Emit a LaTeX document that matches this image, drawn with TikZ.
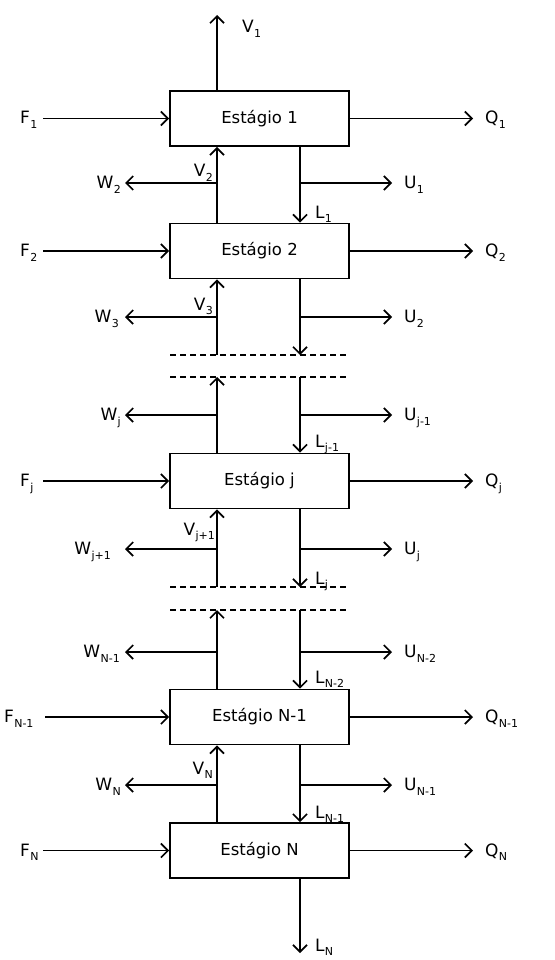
\documentclass[tikz,border=0pt]{standalone}
\usepackage{fontspec}
\setmainfont{DejaVu Sans}
\usetikzlibrary{arrows.meta}
\newcommand\lbx[2]{#1\kern0.3pt\raisebox{-0.5ex}{\fontsize{11}{11}\selectfont #2}}
\tikzset{
 stage/.style={draw, line width=1.7pt, minimum width=179pt, minimum height=55pt, inner sep=0pt, font=\fontsize{16.5}{16.5}\selectfont},
 flow/.style={line width=1.7pt, -{Straight Barb[length=7pt,width=14pt,line width=1.7pt]}},
 lab/.style={inner sep=0pt, font=\fontsize{17}{17}\selectfont},
 cut/.style={line width=1.7pt, dash pattern=on 6pt off 4pt}
}
\begin{document}
\begin{tikzpicture}[x=1pt,y=-1pt]
\useasboundingbox (0,0) rectangle (554,960);
% stages
\node[stage] (s1) at (259.5,118.5) {Estágio 1};
\node[stage] (s2) at (259.5,251) {Estágio 2};
\node[stage] (sj) at (259.5,481) {Estágio j};
\node[stage] (sn1) at (259.5,717) {Estágio N-1};
\node[stage] (sn) at (259.5,850.5) {Estágio N};
% column coordinates
\coordinate (vx) at (217,0);
\coordinate (lx) at (300,0);
% dashed cuts
\coordinate (c1a) at (170,355); \coordinate (c1b) at (349,355);
\coordinate (c2a) at (170,377); \coordinate (c2b) at (349,377);
\coordinate (c3a) at (170,587); \coordinate (c3b) at (349,587);
\coordinate (c4a) at (170,610); \coordinate (c4b) at (349,610);
\draw[cut] (c1a) -- (c1b);
\draw[cut] (c2a) -- (c2b);
\draw[cut] (c3a) -- (c3b);
\draw[cut] (c4a) -- (c4b);
% feeds and products
\foreach \s/\y/\fx in {s1/118.5/43, s2/251/43, sj/481/43, sn1/717/45, sn/850.5/43}{
  \coordinate (f-\s) at (\fx,\y);
  \coordinate (q-\s) at (473,\y);
  \draw[flow] (f-\s) -- (f-\s -| \s.west);
  \draw[flow] (\s.east |- q-\s) -- (q-\s);
}
% top vapour
\coordinate (v1) at (217,15);
\draw[flow] (s1.north -| vx) -- (v1);
% stage 1 - stage 2
\draw[flow] (s2.north -| vx) -- (s1.south -| vx);
\draw[flow] (s1.south -| lx) -- (s2.north -| lx);
\coordinate (w2) at (125,183); \coordinate (u1) at (392,183);
\draw[flow] (w2 -| vx) -- (w2);
\draw[flow] (u1 -| lx) -- (u1);
% stage 2 - cut
\draw[flow] (c1a -| vx) -- (s2.south -| vx);
\draw[flow] (s2.south -| lx) -- (c1a -| lx);
\coordinate (w3) at (125,317); \coordinate (u2) at (392,317);
\draw[flow] (w3 -| vx) -- (w3);
\draw[flow] (u2 -| lx) -- (u2);
% cut - stage j
\draw[flow] (sj.north -| vx) -- (c2a -| vx);
\draw[flow] (c2a -| lx) -- (sj.north -| lx);
\coordinate (wj) at (125,415); \coordinate (uj1) at (392,415);
\draw[flow] (wj -| vx) -- (wj);
\draw[flow] (uj1 -| lx) -- (uj1);
% stage j - cut
\draw[flow] (c3a -| vx) -- (sj.south -| vx);
\draw[flow] (sj.south -| lx) -- (c3a -| lx);
\coordinate (wjp) at (125,549); \coordinate (uj) at (392,549);
\draw[flow] (wjp -| vx) -- (wjp);
\draw[flow] (uj -| lx) -- (uj);
% cut - stage N-1
\draw[flow] (sn1.north -| vx) -- (c4a -| vx);
\draw[flow] (c4a -| lx) -- (sn1.north -| lx);
\coordinate (wn1) at (125,652); \coordinate (un2) at (392,652);
\draw[flow] (wn1 -| vx) -- (wn1);
\draw[flow] (un2 -| lx) -- (un2);
% stage N-1 - stage N
\draw[flow] (sn.north -| vx) -- (sn1.south -| vx);
\draw[flow] (sn1.south -| lx) -- (sn.north -| lx);
\coordinate (wn) at (125,785); \coordinate (un1) at (392,785);
\draw[flow] (wn -| vx) -- (wn);
\draw[flow] (un1 -| lx) -- (un1);
% bottom liquid
\coordinate (ln) at (300,953);
\draw[flow] (sn.south -| lx) -- (ln);
% labels: feeds
\node[lab, anchor=base west] (tF1) at (20,124) {\lbx{F}{1}};
\node[lab, anchor=base west] (tF2) at (20,256.5) {\lbx{F}{2}};
\node[lab, anchor=base west] (tFj) at (20,486.5) {\lbx{F}{j}};
\node[lab, anchor=base west] (tFn1) at (4,722.5) {\lbx{F}{N-1}};
\node[lab, anchor=base west] (tFn) at (20,856) {\lbx{F}{N}};
% labels: products
\node[lab, anchor=base west] (tQ1) at (485,124) {\lbx{Q}{1}};
\node[lab, anchor=base west] (tQ2) at (485,256.5) {\lbx{Q}{2}};
\node[lab, anchor=base west] (tQj) at (485,486.5) {\lbx{Q}{j}};
\node[lab, anchor=base west] (tQn1) at (485,722.5) {\lbx{Q}{N-1}};
\node[lab, anchor=base west] (tQn) at (485,856) {\lbx{Q}{N}};
% labels: W
\node[lab, anchor=base east] (tW2) at (121,188.5) {\lbx{W}{2}};
\node[lab, anchor=base east] (tW3) at (119,322.5) {\lbx{W}{3}};
\node[lab, anchor=base east] (tWj) at (121,420.5) {\lbx{W}{j}};
\node[lab, anchor=base east] (tWjp) at (111,554.5) {\lbx{W}{j+1}};
\node[lab, anchor=base east] (tWn1) at (120,657.5) {\lbx{W}{N-1}};
\node[lab, anchor=base east] (tWn) at (121,790.5) {\lbx{W}{N}};
% labels: U
\node[lab, anchor=base west] (tU1) at (404,188.5) {\lbx{U}{1}};
\node[lab, anchor=base west] (tU2) at (404,322.5) {\lbx{U}{2}};
\node[lab, anchor=base west] (tUj1) at (404,420.5) {\lbx{U}{j-1}};
\node[lab, anchor=base west] (tUj) at (404,554.5) {\lbx{U}{j}};
\node[lab, anchor=base west] (tUn2) at (404,657.5) {\lbx{U}{N-2}};
\node[lab, anchor=base west] (tUn1) at (404,790.5) {\lbx{U}{N-1}};
% labels: V
\node[lab, anchor=base west] (tV1) at (242,33) {\lbx{V}{1}};
\node[lab, anchor=base east] (tV2) at (213,177) {\lbx{V}{2}};
\node[lab, anchor=base east] (tV3) at (213,310) {\lbx{V}{3}};
\node[lab, anchor=base east] (tVjp) at (215,535) {\lbx{V}{j+1}};
\node[lab, anchor=base east] (tVn) at (213,774) {\lbx{V}{N}};
% labels: L
\node[lab, anchor=base west] (tL1) at (315,218) {\lbx{L}{1}};
\node[lab, anchor=base west] (tLj1) at (315,447) {\lbx{L}{j-1}};
\node[lab, anchor=base west] (tLj) at (315,584) {\lbx{L}{j}};
\node[lab, anchor=base west] (tLn2) at (315,683) {\lbx{L}{N-2}};
\node[lab, anchor=base west] (tLn1) at (315,818) {\lbx{L}{N-1}};
\node[lab, anchor=base west] (tLn) at (315,951) {\lbx{L}{N}};
\end{tikzpicture}
\end{document}
